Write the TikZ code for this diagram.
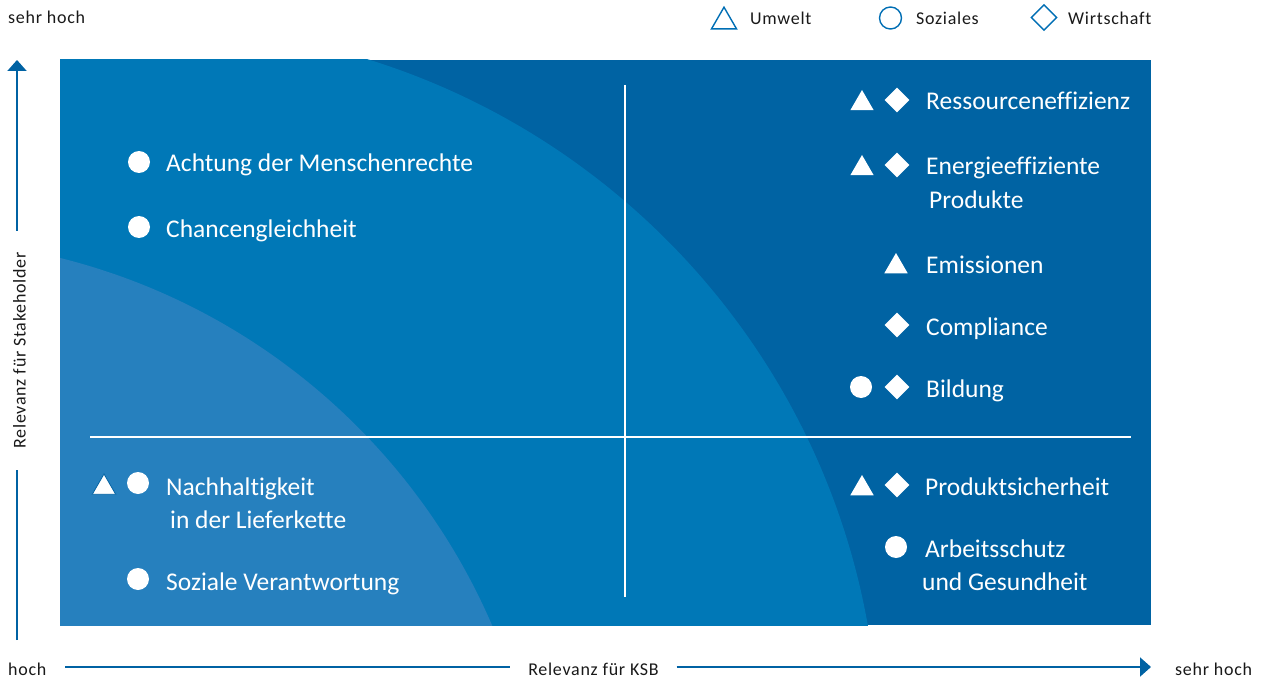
\documentclass[tikz,border=0pt]{standalone}
\usepackage{fontspec}
\setmainfont{Carlito}[Ligatures=CommonOff]
\newfontfamily\smallfnt[LetterSpace=4,Ligatures=CommonOff]{Carlito}
\usetikzlibrary{shapes.geometric,arrows.meta}
\definecolor{bgdark}{RGB}{0,99,163}
\definecolor{bgmid}{RGB}{0,120,183}
\definecolor{bglight}{RGB}{38,128,190}
\definecolor{axiscol}{RGB}{0,98,163}
\definecolor{legcol}{RGB}{0,110,180}
\definecolor{txtcol}{RGB}{25,25,25}
\begin{document}
\begin{tikzpicture}[x=1pt,y=-1pt,
  lbl/.style={anchor=base west, text=white, font=\fontsize{25.5}{33}\selectfont, inner sep=0pt, align=left},
  small/.style={anchor=base west, inner sep=0pt, font=\smallfnt\fontsize{18}{22}\selectfont, text=txtcol},
  tri/.style={regular polygon, regular polygon sides=3, minimum size=27pt, inner sep=0pt, fill=white, yshift=-3.5pt},
  circ/.style={circle, minimum size=22pt, inner sep=0pt, fill=white},
  dia/.style={diamond, minimum width=25pt, minimum height=25pt, inner sep=0pt, fill=white},
  legtri/.style={regular polygon, regular polygon sides=3, minimum size=29pt, inner sep=0pt, draw=legcol, line width=1.4pt, yshift=-3.7pt},
  legcirc/.style={circle, minimum size=22pt, inner sep=0pt, draw=legcol, line width=1.4pt},
  legdia/.style={diamond, minimum width=26pt, minimum height=26pt, inner sep=0pt, draw=legcol, line width=1.4pt},
  axisline/.style={draw=axiscol, line width=2pt},
  gridline/.style={draw=white, line width=2pt},
  tip/.style={-{Triangle[length=11pt,width=19pt]}}
]
\useasboundingbox (0,0) rectangle (1266,679);

% background
\begin{scope}
\clip (60,60) rectangle (1151,625);
\fill[bgdark] (60,60) rectangle (1151,625);
\fill[bgmid] (153,753) circle[radius=726pt];
\fill[bglight] (-95,878) circle[radius=639pt];
\end{scope}

% quadrant lines
\coordinate (vt) at (625,85);
\coordinate (vb) at (625,597);
\coordinate (hl) at (90,437);
\coordinate (hr) at (1131,437);
\draw[gridline] (vt) -- (vb);
\draw[gridline] (hl) -- (hr);

% legend
\node[legtri] (lt) at (724,18) {};
\node[small] (ltt) at (750,25) {Umwelt};
\node[legcirc] (lc) at (890.5,18) {};
\node[small] (lct) at (916,25) {Soziales};
\node[legdia] (ld) at (1044,17.5) {};
\node[small] (ldt) at (1068,25) {Wirtschaft};

% axes
\node[small] (ysh) at (8,24) {sehr hoch};
\node[small] (xh) at (8,675) {hoch};
\node[small] (xsh) at (1175,675) {sehr hoch};
\node[small, anchor=center, rotate=90, outer xsep=22pt] (ylab) at (19.5,350.5) {Relevanz für Stakeholder};
\coordinate (ytop) at (17,60);
\coordinate (ybot) at (17,640);
\draw[axisline] (ybot) -- (ybot |- ylab.west);
\draw[axisline, tip] (ytop |- ylab.east) -- (ytop);
\node[small, anchor=base, outer xsep=18pt] (xlab) at (593.5,675) {Relevanz für KSB};
\coordinate (xl) at (65,667);
\coordinate (xr) at (1151,667);
\draw[axisline] (xl) -- (xl -| xlab.west);
\draw[axisline, tip] (xr -| xlab.east) -- (xr);

% top right quadrant
\node[tri] (m1a) at (862,100) {};
\node[dia] (m1b) at (897,100) {};
\node[lbl] (t1) at (926,109.5) {Ressourceneffizienz};
\node[tri] (m2a) at (862,165) {};
\node[dia] (m2b) at (897,165) {};
\node[lbl] (t2) at (926,208) {Energieeffiziente\\\hspace*{3pt}Produkte};
\node[tri] (m3a) at (896,263) {};
\node[lbl] (t3) at (926,273) {Emissionen};
\node[dia] (m4b) at (897,325) {};
\node[lbl] (t4) at (926,335) {Compliance};
\node[circ] (m5a) at (861,387) {};
\node[dia] (m5b) at (897,387) {};
\node[lbl] (t5) at (926,397) {Bildung};

% bottom right quadrant
\node[tri] (m6a) at (862,485) {};
\node[dia] (m6b) at (897,485) {};
\node[lbl] (t6) at (925,495) {Produktsicherheit};
\node[circ] (m7a) at (896,547) {};
\node[lbl] (t7) at (925,590) {Arbeitsschutz\\\hspace*{-3pt}und Gesundheit};

% top left quadrant
\node[circ] (m8a) at (139,162) {};
\node[lbl] (t8) at (166,172) {Achtung der Menschenrechte};
\node[circ] (m9a) at (139,227) {};
\node[lbl] (t9) at (166,237) {Chancengleichheit};

% bottom left quadrant
\node[tri, draw=axiscol, line width=0.8pt] (m10a) at (104,484) {};
\node[circ] (m10b) at (138,483) {};
\node[lbl] (t10) at (166,528) {Nachhaltigkeit\\\hspace*{4pt}in der Lieferkette};
\node[circ] (m11a) at (138,579) {};
\node[lbl] (t11) at (166,590) {Soziale Verantwortung};
\end{tikzpicture}
\end{document}
